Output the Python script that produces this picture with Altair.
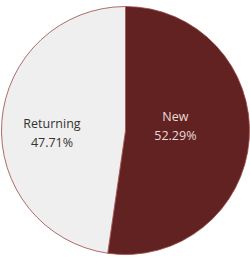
import altair as alt
import pandas as pd

categories = ["New", "Returning"]
values = [52.29, 47.71]
colors = ["#622222", "#F0EFEF"]
text_colors = ["#E8DCDC", "#333333"]

df = pd.DataFrame({"category": categories, "value": values})

base = alt.Chart(df).encode(
    theta=alt.Theta("value:Q", stack=True),
    order=alt.Order("order:Q"),
).transform_calculate(
    order="datum.category == 'New' ? 0 : 1",
    label="datum.category + '\\n' + format(datum.value, '.2f') + '%'",
)

pie = base.mark_arc(
    outerRadius=124, stroke="#9A4848", strokeWidth=0.8
).encode(
    color=alt.Color("category:N", scale=alt.Scale(domain=categories, range=colors), legend=None),
    x=alt.value(125.5),
    y=alt.value(130.5),
)

def label_layer(cat, r, dy, tcolor):
    return base.mark_text(
        radius=r, dy=dy, fontSize=12.5, font="Open Sans", lineBreak="\n",
        lineHeight=19, align="center", baseline="middle", color=tcolor,
    ).encode(
        text=alt.condition(alt.datum.category == cat, alt.Text("label:N"), alt.value("")),
        x=alt.value(125.5),
        y=alt.value(130.5),
    )

labels_new = label_layer("New", 50, -17.1, text_colors[0])
labels_ret = label_layer("Returning", 73.7, -1.2, text_colors[1])

chart = alt.layer(pie, labels_new, labels_ret).properties(
    width=250, height=266, autosize=alt.AutoSizeParams(type="none"), padding=0,
    background="white",
).configure_view(stroke=None)

chart.save("out.html", embed_options={"renderer": "svg", "actions": False})
